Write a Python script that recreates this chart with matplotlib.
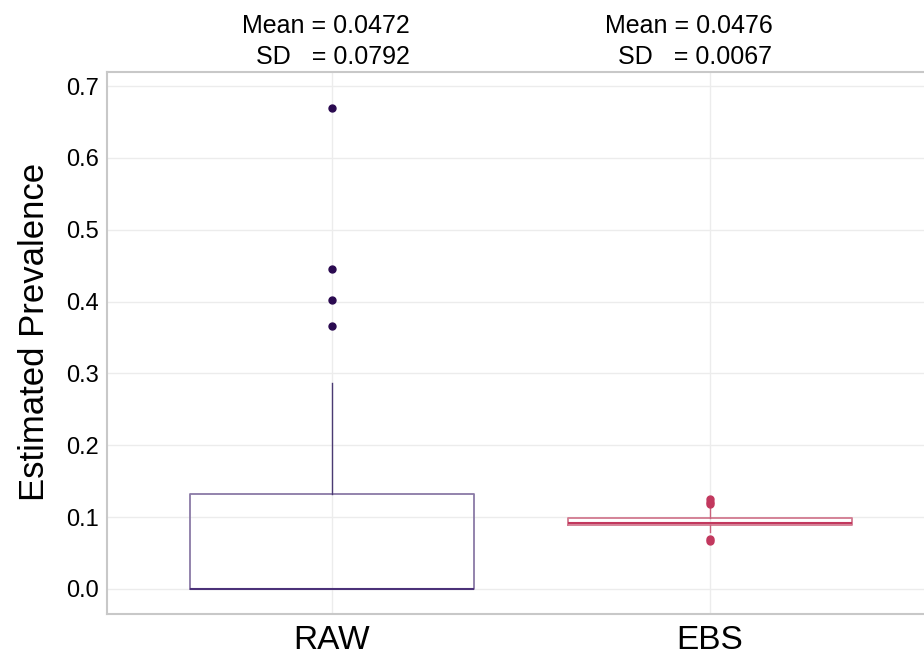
import matplotlib.pyplot as plt

# --- Data ---
GROUPS = ['RAW', 'EBS']
Q1 = [0.0, 0.0885]
MEDIAN = [0.0, 0.0925]
Q3 = [0.132, 0.0985]
WHISKER_LO = [0.0, 0.079]
WHISKER_HI = [0.2865, 0.114]
OUTLIERS = [
    [0.670, 0.446, 0.402, 0.366],
    [0.118, 0.121, 0.125, 0.067, 0.069],
]
MEANS = [0.0472, 0.0476]
SDS = [0.0792, 0.0067]

# --- Styles ---
BOX_EDGE = ['#8a7aa6', '#d27a90']
MEDIAN_COLOR = ['#4b3278', '#c2385e']
WHISKER_COLOR = ['#4b3a73', '#c9627c']
POINT_COLOR = ['#2a0a50', '#c2385e']
GRID_COLOR = '#ececec'
FRAME_COLOR = '#c8c8c8'

plt.rcParams['font.family'] = ['Liberation Sans', 'DejaVu Sans']

fig = plt.figure(figsize=(9.24, 6.55), dpi=100)
ax = fig.add_axes([107 / 924, 41 / 655, 828 / 924, 542 / 655])

positions = list(range(len(GROUPS)))
for i, name in enumerate(GROUPS):
    stats = [{
        'label': name,
        'q1': Q1[i], 'med': MEDIAN[i], 'q3': Q3[i],
        'whislo': WHISKER_LO[i], 'whishi': WHISKER_HI[i],
        'fliers': OUTLIERS[i],
    }]
    ax.bxp(
        stats, positions=[positions[i]], widths=0.75, showcaps=False,
        boxprops=dict(color=BOX_EDGE[i], linewidth=1.3),
        medianprops=dict(color=MEDIAN_COLOR[i], linewidth=1.5),
        whiskerprops=dict(color=WHISKER_COLOR[i], linewidth=1.0),
        flierprops=dict(marker='o', markersize=5, markerfacecolor=POINT_COLOR[i],
                        markeredgecolor=POINT_COLOR[i]),
        manage_ticks=False, zorder=3,
    )

ax.set_xlim(-0.595, 1.595)
ax.set_ylim(-0.0348, 0.7195)
ax.set_yticks([0.0, 0.1, 0.2, 0.3, 0.4, 0.5, 0.6, 0.7])
ax.set_yticklabels([f'{v:.1f}' for v in ax.get_yticks()], fontsize=17)
ax.set_xticks(positions)
ax.set_xticklabels(GROUPS, fontsize=24)
ax.tick_params(axis='both', length=0, pad=6)
ax.tick_params(axis='x', pad=8)
ax.set_ylabel('Estimated Prevalence', fontsize=25)
ax.yaxis.set_label_coords(-0.068, 0.52)

ax.grid(True, color=GRID_COLOR, linewidth=1.0, zorder=0)
ax.set_axisbelow(True)
for spine in ax.spines.values():
    spine.set_color(FRAME_COLOR)
    spine.set_linewidth(1.5)

# mean / sd annotations above each box
ann_x = [0.205, 1.165]
for i in range(len(GROUPS)):
    ax.text(ann_x[i], 1.085, f'Mean = {MEANS[i]:.4f}', transform=ax.get_xaxis_transform(),
            ha='right', va='center', fontsize=18)
    ax.text(ann_x[i], 1.028, f'SD   = {SDS[i]:.4f}', transform=ax.get_xaxis_transform(),
            ha='right', va='center', fontsize=18)

fig.savefig('out.png', dpi=100)
